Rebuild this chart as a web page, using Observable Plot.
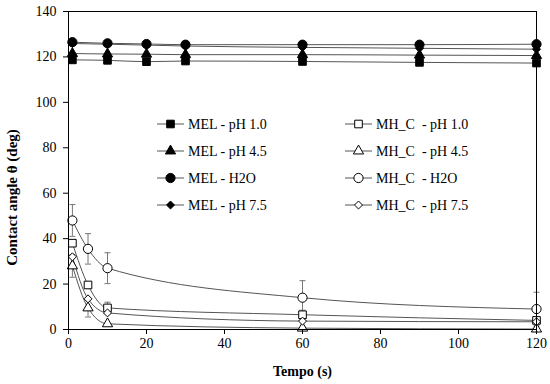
<!DOCTYPE html>
<html>
<head>
<meta charset="utf-8">
<script src="https://cdn.jsdelivr.net/npm/d3@7"></script>
<script src="https://cdn.jsdelivr.net/npm/@observablehq/plot@0.6"></script>
<style>
  html, body { margin: 0; padding: 0; background: #fff; }
  #wrap { position: relative; width: 550px; height: 384px; font-family: "Liberation Serif", "Times New Roman", serif; }
  #wrap g[aria-label="x-axis label"] text, #wrap g[aria-label="x-axis label"] { font-weight: bold; }
  #legend { position: absolute; left: 0; top: 0; }
</style>
</head>
<body>
<div id="wrap"></div>
<script>
// ---- data ----
const timeMEL = [1, 10, 20, 30, 60, 90, 120];
const melPH10 = [118.7, 118.5, 117.9, 118.2, 118.0, 117.6, 117.3];
const melPH45 = [121.5, 121.3, 121.2, 121.0, 121.0, 120.8, 120.6];
const melH2O  = [126.5, 126.0, 125.7, 125.4, 125.4, 125.4, 125.6];
const melPH75 = [125.9, 125.6, 125.2, 124.8, 124.2, 123.8, 123.4];

const timeMH  = [1, 5, 10, 60, 120];
const mhPH10  = [38.0, 19.6, 9.5, 6.5, 4.0];
const mhPH45  = [28.0, 9.5, 2.5, 0.6, 0.2];
const mhH2O   = [48.0, 35.5, 27.0, 14.0, 9.0];
const mhPH75  = [32.0, 13.5, 7.3, 3.7, 3.4];

const mhPH10Err = [0, 0, 2.5, 2.0, 0];
const mhPH45Err = [5.0, 4.0, 0, 0, 0];
const mhH2OErr  = [7.0, 6.7, 6.8, 7.5, 7.4];

const seriesNames = ["MEL - pH 1.0", "MH_C  - pH 1.0", "MEL - pH 4.5", "MH_C  - pH 4.5",
                     "MEL - H2O", "MH_C  - H2O", "MEL - pH 7.5", "MH_C  - pH 7.5"];
const xTicks = [0, 20, 40, 60, 80, 100, 120];
const yTicks = [0, 20, 40, 60, 80, 100, 120, 140];
const xTitle = "Tempo (s)";
const yTitle = "Contact angle θ (deg)";

// ---- series table ----
const series = [
  {name: seriesNames[0], t: timeMEL, v: melPH10, symbol: "square",   filled: true,  r: 4.3},
  {name: seriesNames[1], t: timeMH,  v: mhPH10,  symbol: "square",   filled: false, r: 4.3, err: mhPH10Err},
  {name: seriesNames[2], t: timeMEL, v: melPH45, symbol: "triangle", filled: true,  r: 3.8},
  {name: seriesNames[3], t: timeMH,  v: mhPH45,  symbol: "triangle", filled: false, r: 3.8, err: mhPH45Err},
  {name: seriesNames[4], t: timeMEL, v: melH2O,  symbol: "circle",   filled: true,  r: 4.6},
  {name: seriesNames[5], t: timeMH,  v: mhH2O,   symbol: "circle",   filled: false, r: 4.6, err: mhH2OErr},
  {name: seriesNames[6], t: timeMEL, v: melPH75, symbol: "diamond2", filled: true,  r: 3.6},
  {name: seriesNames[7], t: timeMH,  v: mhPH75,  symbol: "diamond2", filled: false, r: 3.6}
];
series.forEach(s => {
  s.rows = s.t.map((t, i) => ({t, v: s.v[i], e: s.err ? s.err[i] : 0, name: s.name}));
});

const capSymbol = {
  draw(ctx, size) {
    const w = 3;
    ctx.moveTo(-w, 0);
    ctx.lineTo(w, 0);
  }
};

const marks = [];
// lines
series.forEach(s => {
  marks.push(Plot.line(s.rows, {x: "t", y: "v", curve: "monotone-x", stroke: "#555", strokeWidth: 1}));
});
// error bars
series.filter(s => s.err).forEach(s => {
  const rows = s.rows.filter(d => d.e > 0);
  marks.push(Plot.ruleX(rows, {x: "t", y1: d => d.v - d.e, y2: d => d.v + d.e, stroke: "#777", strokeWidth: 1}));
  marks.push(Plot.dot(rows, {x: "t", y: d => d.v + d.e, symbol: capSymbol, r: 3, stroke: "#777", strokeWidth: 1}));
  marks.push(Plot.dot(rows, {x: "t", y: d => d.v - d.e, symbol: capSymbol, r: 3, stroke: "#777", strokeWidth: 1}));
});
// markers
series.forEach(s => {
  marks.push(Plot.dot(s.rows, {
    x: "t", y: "v", symbol: s.symbol, r: s.r,
    fill: s.filled ? "black" : "white", stroke: "black", strokeWidth: 1
  }));
});
marks.push(Plot.frame({stroke: "black", strokeWidth: 1}));
marks.push(Plot.axisX({ticks: xTicks, tickSize: 5, tickPadding: 4, label: xTitle, labelAnchor: "center", labelOffset: 46, labelArrow: "none"}));
marks.push(Plot.axisY({ticks: yTicks, tickSize: 5, tickPadding: 7, label: null}));
marks.push(Plot.text([yTitle], {
  text: d => d, frameAnchor: "left", textAnchor: "middle", lineAnchor: "middle",
  rotate: -90, dx: -56, dy: 27,
  fontWeight: "bold", fontSize: 15, fill: "black"
}));

const chart = Plot.plot({
  width: 550,
  height: 384,
  marginLeft: 68,
  marginRight: 14,
  marginTop: 11,
  marginBottom: 55,
  style: {fontFamily: "Liberation Serif, Times New Roman, serif", fontSize: "14px", color: "black", background: "white"},
  x: {domain: [0, 120]},
  y: {domain: [0, 140]},
  marks
});
document.getElementById("wrap").appendChild(chart);

// ---- legend overlay ----
const legend = d3.select("#wrap").append("svg")
  .attr("id", "legend").attr("width", 550).attr("height", 384);
const colX = [157, 345];
const rowY0 = 124, rowStep = 27;
const symMap = {square: d3.symbolSquare, triangle: d3.symbolTriangle, circle: d3.symbolCircle, diamond2: d3.symbolDiamond2};
series.forEach((s, i) => {
  const g = legend.append("g")
    .attr("transform", `translate(${colX[i % 2]},${rowY0 + Math.floor(i / 2) * rowStep})`);
  g.append("line").attr("x1", 0).attr("x2", 27).attr("y1", 0).attr("y2", 0)
    .attr("stroke", "#555").attr("stroke-width", 1);
  g.append("path")
    .attr("transform", "translate(13.5,0)")
    .attr("d", d3.symbol(symMap[s.symbol], Math.PI * s.r * s.r)())
    .attr("fill", s.filled ? "black" : "white").attr("stroke", "black");
  g.append("text").attr("x", 31).attr("y", 0).attr("dy", "0.35em")
    .style("white-space", "pre")
    .attr("font-family", "Liberation Serif, Times New Roman, serif").attr("font-size", 14)
    .text(s.name);
});
</script>
</body>
</html>
